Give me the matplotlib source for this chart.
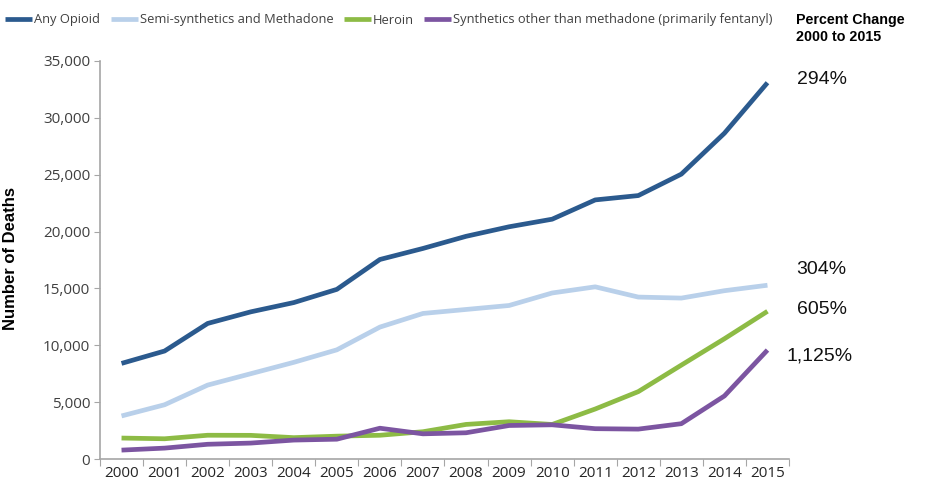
import numpy as np
import matplotlib.pyplot as plt
from matplotlib.ticker import FuncFormatter

years = [str(y) for y in range(2000, 2016)]
any_opioid = [8407, 9496, 11920, 12940, 13756, 14918, 17545, 18516,
              19582, 20422, 21089, 22784, 23166, 25052, 28647, 33091]
semi_methadone = [3785, 4770, 6500, 7500, 8500, 9600, 11600, 12800,
                  13150, 13500, 14600, 15140, 14240, 14150, 14800, 15280]
heroin = [1842, 1779, 2089, 2080, 1878, 2009, 2088, 2399,
          3041, 3278, 3036, 4397, 5925, 8257, 10574, 12989]
synthetics = [782, 957, 1295, 1400, 1664, 1742, 2707, 2213,
              2306, 2946, 3007, 2666, 2628, 3105, 5544, 9580]
series_names = ['Any Opioid', 'Semi-synthetics and Methadone', 'Heroin',
                'Synthetics other than methadone (primarily fentanyl)']
pct_labels = ['294%', '304%', '605%', '1,125%']

colors = ['#2B5A8E', '#B9D0EA', '#8DBB45', '#7C55A1']

plt.rcParams['font.family'] = ['Open Sans', 'DejaVu Sans']

fig = plt.figure(figsize=(9.28, 4.86), dpi=100)
ax = fig.add_axes([100/928, 1 - 459/486, 689/928, 398/486])

x = np.arange(len(years))
all_series = [any_opioid, semi_methadone, heroin, synthetics]
lines = []
for vals, c, name in zip(all_series, colors, series_names):
    ln, = ax.plot(x, vals, color=c, lw=3.4, solid_capstyle='butt', label=name)
    lines.append(ln)

ax.set_xlim(-0.5, len(years) - 0.5)
ax.set_ylim(0, 35000)
ax.set_yticks(np.arange(0, 35001, 5000))
ax.yaxis.set_major_formatter(FuncFormatter(lambda v, p: f'{int(v):,}'))
ax.set_xticks(np.arange(-0.5, len(years), 1))
ax.set_xticklabels([])
ax.set_xticks(x, minor=True)
ax.set_xticklabels(years, minor=True)
ax.tick_params(axis='x', which='major', length=5, color='#A6A6A6', direction='out')
ax.tick_params(axis='x', which='minor', length=0, pad=5, labelsize=11, labelcolor='#262626')
ax.tick_params(axis='y', length=4, color='#A6A6A6', labelsize=11, labelcolor='#404040', pad=3)

for s in ['top', 'right']:
    ax.spines[s].set_visible(False)
for s in ['left', 'bottom']:
    ax.spines[s].set_color('#A6A6A6')
    ax.spines[s].set_linewidth(1.2)

ax.set_ylabel('Number of Deaths', fontsize=12, fontweight='bold',
              family=['Liberation Sans', 'DejaVu Sans'])
ax.yaxis.set_label_coords(-82/689, (459 - 258)/398)

# percent change labels at the end of each line
offsets = [(21, 2), (21, 11), (21, 1), (14, -4)]
for vals, lab, off in zip(all_series, pct_labels, offsets):
    ax.annotate(lab, xy=(x[-1], vals[-1]), xytext=off, textcoords='offset points',
                fontsize=14, color='#111111', va='center', ha='left',
                family=['Liberation Sans', 'DejaVu Sans'], annotation_clip=False)

fig.text(796/928, 1 - 13/486, 'Percent Change\n2000 to 2015', fontsize=10.3,
         fontweight='bold', va='top', ha='left', linespacing=1.25,
         family=['Liberation Sans', 'DejaVu Sans'])

fig.legend(handles=lines, loc='center left', bbox_to_anchor=(0.0, 1 - 20/486),
           ncol=4, frameon=False, fontsize=9.3, handlelength=2.1,
           handletextpad=0.15, columnspacing=0.8, borderaxespad=0,
           labelcolor='#404040')

fig.savefig('out.png', dpi=100)
